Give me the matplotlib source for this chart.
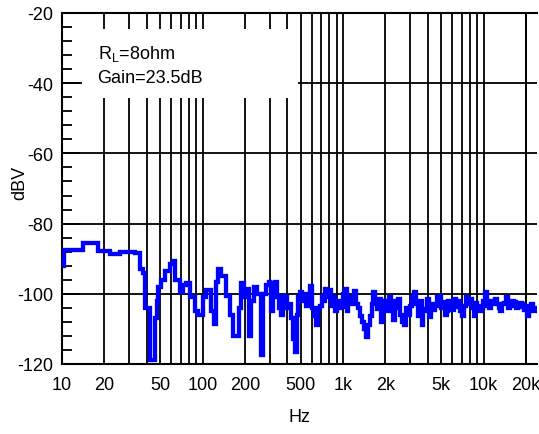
import matplotlib
matplotlib.use("Agg")
import matplotlib.pyplot as plt
from matplotlib.patches import Rectangle
from matplotlib.ticker import FixedLocator, MultipleLocator, NullLocator
import numpy as np


# ---------------------------------- #
# ---------------DATA--------------- #
# ---------------------------------- #

# Low band, read point by point (Hz, dBV)
freq_low = [10, 10.3, 14.1, 18.1, 22.0, 26.0, 33.2, 36.1, 37.9, 39.2, 42.5, 46.2,
            47.7, 48.5, 50.9, 54.4, 59.1, 62.1, 64.1, 69.6, 73.1, 76.9, 82.1, 89.1,
            93.6, 100, 105, 114, 120, 124, 128, 135, 146, 158, 166, 181, 187, 196,
            203, 213, 220, 231, 243, 260, 268, 282, 296]
level_low = [-92, -87.5, -85.5, -87.8, -88.7, -88.0, -88.5, -93, -94, -104, -119, -107,
             -102, -98, -96, -93.5, -91.5, -90.6, -96, -99.5, -97.5, -97, -101, -105,
             -106, -101, -99, -105, -108.5, -96.5, -93, -95, -100.5, -106, -112, -104,
             -97, -101, -98.5, -112, -102, -98, -100, -117.5, -100, -97.5, -96.5]

# High band, analyser bins from 300 Hz to 24 kHz (dBV)
level_high = [-97, -105, -98, -96.5, -101, -104, -106, -100.5, -101, -104,
              -103, -107, -113, -116.5, -106, -101, -99.5, -102, -100, -103.5,
              -101, -97.8, -104, -106.3, -109, -104, -103.5, -100.5, -102, -98.5,
              -101, -99, -103.5, -101, -105, -102, -104, -103.8, -100, -98.6,
              -104.8, -101, -103, -102, -99.2, -102.8, -104, -106.3, -108, -110,
              -112.3, -109, -106.3, -103, -99.5, -102, -104.3, -101.5, -108, -104,
              -102, -105, -101, -103, -107.5, -102, -104, -101.5, -106, -108,
              -109, -104, -106, -103.5, -101, -99.5, -103, -106.3, -102, -109,
              -105, -104.3, -101.5, -106.5, -103, -104.5, -103.5, -101, -100.5, -104,
              -102.3, -106, -105, -102, -103, -104.5, -101.5, -103.8, -102, -105,
              -106.3, -103.5, -101, -103, -101.5, -104, -106.3, -102.5, -103.5, -105,
              -104.3, -102, -99.5, -103.5, -104, -102, -103, -101.5, -103, -104,
              -105, -103, -102.5, -100.8, -104, -103.5, -102, -102.3, -104, -103.8,
              -102.5, -103, -104.5, -103.5, -106.3, -104, -103, -105, -104, -104.3]
freq_high = np.geomspace(300, 24000, len(level_high))

freq = np.concatenate([freq_low, freq_high])
level = np.concatenate([level_low, level_high])

xtick_values = [10, 20, 50, 100, 200, 500, 1000, 2000, 5000, 10000, 20000]
xtick_labels = ['10', '20', '50', '100', '200', '500', '1k', '2k', '5k', '10k', '20k']
xgrid_values = [m * d for d in (10, 100, 1000, 10000) for m in range(1, 10)] + [20000]
ytick_values = [-120, -100, -80, -60, -40, -20]

notes = ['R$_\\mathregular{L}$=8ohm', 'Gain=23.5dB']


# ---------------------------------- #
# ---------------PLOT--------------- #
# ---------------------------------- #

plt.rcParams['font.family'] = ['Liberation Sans', 'DejaVu Sans']
plt.rcParams['axes.unicode_minus'] = False
fig = plt.figure(figsize=(5.39, 4.35), dpi=100)
ax = fig.add_axes([62 / 539, 70 / 435, 475 / 539, 351 / 435])
ax.set_axisbelow(True)

# Trace
ax.plot(freq, level, color='#0000ff', linewidth=3.1, drawstyle='steps-post',
        solid_joinstyle='miter', zorder=3)

ax.set_xscale('log')
ax.set_xlim(10, 24000)
ax.set_ylim(-120, -20)

# Grid on every decade subdivision
ax.xaxis.set_major_locator(FixedLocator(xtick_values))
ax.xaxis.set_minor_locator(NullLocator())
ax.set_xticklabels(xtick_labels)
for g in xgrid_values:
    ax.axvline(g, color='black', linewidth=1.3, zorder=0.5)
for g in ytick_values:
    ax.axhline(g, color='black', linewidth=1.3, zorder=0.5)

ax.yaxis.set_major_locator(FixedLocator(ytick_values))
ax.yaxis.set_minor_locator(MultipleLocator(4))
ax.tick_params(axis='x', length=0, pad=9, labelsize=13)
ax.tick_params(axis='y', which='major', direction='in', length=13, width=1.3,
               pad=6, labelsize=13)
ax.tick_params(axis='y', which='minor', direction='in', length=7, width=1.3)

for side in ('left', 'bottom', 'top'):
    ax.spines[side].set_linewidth(1.5)
ax.spines['right'].set_visible(False)

# White note box sitting over the grid
ax.add_patch(Rectangle((0.042, 0.758), 0.455, 0.196, transform=ax.transAxes,
                       facecolor='white', edgecolor='none', zorder=1))
ax.text(0.075, 0.885, notes[0], transform=ax.transAxes, fontsize=13,
        va='center', ha='left', zorder=2)
ax.text(0.075, 0.815, notes[1], transform=ax.transAxes, fontsize=13,
        va='center', ha='left', zorder=2)

ax.set_xlabel('Hz', fontsize=13)
ax.xaxis.set_label_coords(238 / 475, -44 / 351)
ax.set_ylabel('dBV', fontsize=13)
ax.yaxis.set_label_coords(-34 / 475, 0.52)

fig.savefig('out.png', dpi=100)
plt.close()
